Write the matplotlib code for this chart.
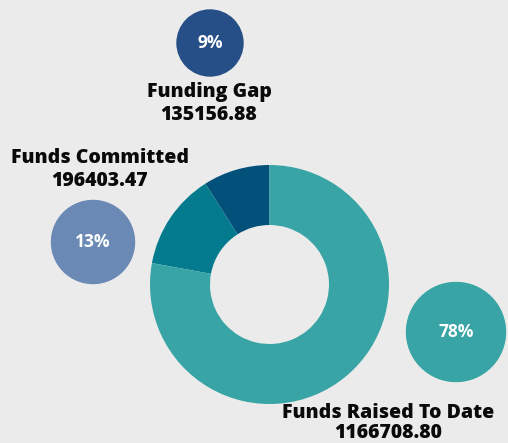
import matplotlib
matplotlib.use("Agg")
import matplotlib.pyplot as plt
from matplotlib.patches import Circle

# Data
categories = ["Funding Gap", "Funds Committed", "Funds Raised To Date"]
values = [135156.88, 196403.47, 1166708.80]

W, H = 508, 443
donut_colors = ["#03507A", "#037A8D", "#38A4A5"]
bubble_colors = ["#264F87", "#6A89B5", "#38A4A5"]
# bubble centres/radii (px, image coords) and label positions
bubbles = [(210, 43, 33), (93, 242, 41.5), (456, 332, 49.5)]
label_pos = [(209, 92, 115), (100, 158, 181), (388, 413, 433)]

plt.rcParams['font.family'] = ['Open Sans', 'DejaVu Sans']
fig = plt.figure(figsize=(W / 100, H / 100), dpi=100, facecolor="#EBEBEB")
ax = fig.add_axes([0, 0, 1, 1])
ax.set_facecolor("#EBEBEB")

total = sum(values)
ax.pie(values, colors=donut_colors, startangle=90, counterclock=True,
       center=(269.5, H - 284.5), radius=119.5, frame=True,
       wedgeprops=dict(width=60, edgecolor="none", linewidth=0))

for i, (cat, v) in enumerate(zip(categories, values)):
    bx, by, br = bubbles[i]
    ax.add_patch(Circle((bx, H - by), br, color=bubble_colors[i], zorder=3))
    pct = round(v / total * 100)
    ax.text(bx, H - by, f"{pct}%", color="white", fontsize=12.5, fontweight="bold",
            ha="center", va="center", zorder=4)
    lx, ly1, ly2 = label_pos[i]
    ax.text(lx, H - ly1, cat, color="#0A0A0A", fontsize=14, fontweight="heavy",
            ha="center", va="center", zorder=4)
    ax.text(lx, H - ly2, f"{v:.2f}", color="#0A0A0A", fontsize=14, fontweight="heavy",
            ha="center", va="center", zorder=4)

ax.set_xlim(0, W)
ax.set_ylim(0, H)
ax.set_aspect("equal")
ax.axis("off")
fig.savefig("out.png", dpi=100, facecolor=fig.get_facecolor())
